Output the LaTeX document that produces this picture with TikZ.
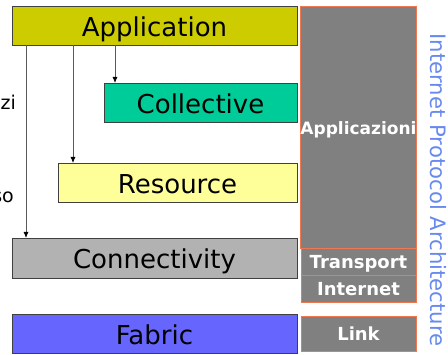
\documentclass[tikz,border=0pt]{standalone}
\usepackage{fontspec}
\setmainfont{DejaVu Sans}
\usetikzlibrary{arrows.meta}
\definecolor{appcol}{RGB}{204,204,0}
\definecolor{collcol}{RGB}{0,204,153}
\definecolor{rescol}{RGB}{255,255,153}
\definecolor{conncol}{RGB}{178,178,178}
\definecolor{fabcol}{RGB}{102,102,255}
\definecolor{ipfill}{RGB}{128,128,128}
\definecolor{ipedge}{RGB}{240,120,80}
\definecolor{iptext}{RGB}{104,138,238}
\definecolor{linecol}{RGB}{90,90,90}
\tikzset{
  layer/.style={draw=black!75, line width=0.8pt, inner sep=0pt, outer sep=0pt,
    text height=22pt, text depth=0pt,
    font=\fontsize{26}{30}\selectfont, text=black},
  ipbox/.style={draw=ipedge, fill=ipfill, line width=1pt, inner sep=0pt, outer sep=0pt,
    text height=13pt, text depth=0pt,
    minimum width=115pt, text=white, font=\fontsize{18}{20}\selectfont\bfseries},
  arr/.style={draw=linecol, line width=0.8pt, -{Latex[length=6pt,width=5pt,color=black]}},
  cut/.style={font=\fontsize{19}{22}\selectfont, inner sep=0pt}
}
\begin{document}
\begin{tikzpicture}[x=1pt,y=-1pt]
\useasboundingbox (0,0) rectangle (448,355);
% layers
\node[layer, fill=appcol, minimum width=285pt, minimum height=39pt] (app) at (154.5,25.5) {Application};
\node[layer, fill=collcol, minimum width=193pt, minimum height=39pt] (coll) at (200.5,102.5) {Collective};
\node[layer, fill=rescol, minimum width=239pt, minimum height=39pt] (res) at (177.5,182.5) {Resource};
\node[layer, fill=conncol, minimum width=285pt, minimum height=40pt] (conn) at (154.5,258) {Connectivity};
\node[layer, fill=fabcol, minimum width=285pt, minimum height=39pt] (fab) at (154.5,333.5) {Fabric};
% arrows
\draw[arr] ([xshift=14pt]app.south west) -- ([xshift=14pt]app.south west |- conn.north);
\draw[arr] ([xshift=61pt]app.south west) -- ([xshift=61pt]app.south west |- res.north);
\draw[arr] ([xshift=103pt]app.south west) -- ([xshift=103pt]app.south west |- coll.north);
% cut-off labels
\node[cut, anchor=base east] (zi) at (16,110) {zi};
\node[cut, anchor=base east] (so) at (14,203) {so};
% internet protocol stack
\node[ipbox, minimum height=242pt, font=\fontsize{17}{20}\selectfont\bfseries] (appz) at (358.5,128) {Applicazioni};
\node[ipbox, minimum height=27pt] (trans) at (358.5,262.5) {Transport};
\node[ipbox, minimum height=27pt] (inet) at (358.5,289.5) {Internet};
\node[ipbox, minimum height=35pt] (link) at (358.5,334.5) {Link};
\node[rotate=-90, anchor=base, inner sep=0pt, text=iptext, font=\fontsize{21.2}{25}\selectfont] (ipa) at (430.5,190) {Internet Protocol Architecture};
\end{tikzpicture}
\end{document}
